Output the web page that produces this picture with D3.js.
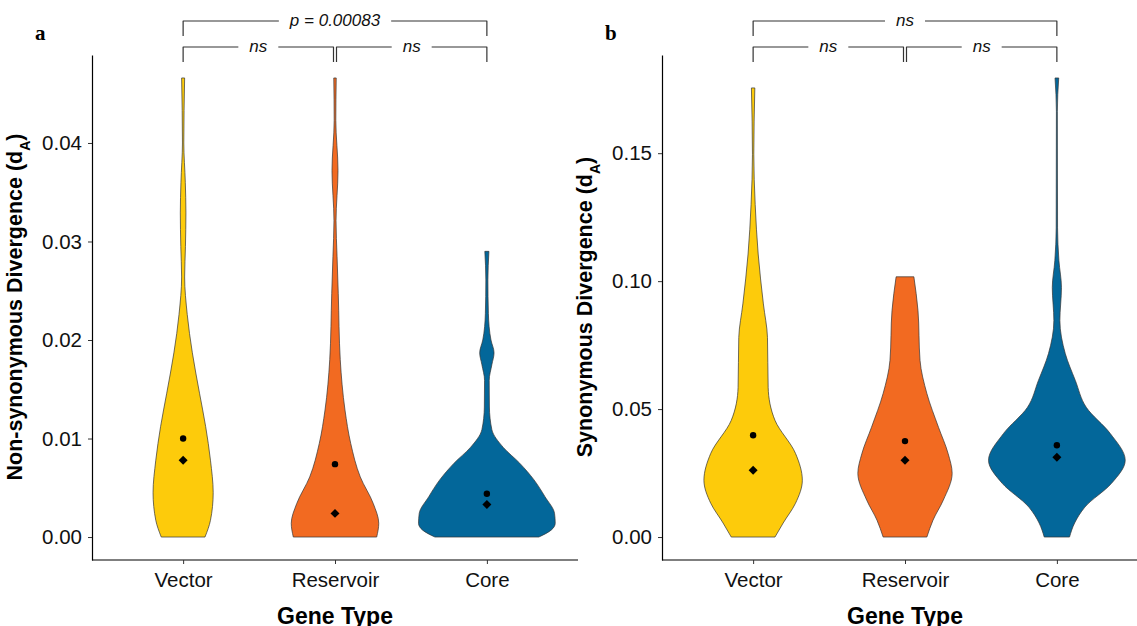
<!DOCTYPE html>
<html>
<head>
<meta charset="utf-8">
<script src="https://d3js.org/d3.v7.min.js"></script>
<style>
  body { margin: 0; background: #fff; }
  svg text { font-family: "Liberation Sans", Arial, sans-serif; }
</style>
</head>
<body>
<div id="chart"></div>
<script>
// categories and colours
var geneTypes = ["Vector", "Reservoir", "Core"];
var fills = ["#FDCB0B", "#F26A21", "#03679A"];

// violin outlines: [value, relative density]
var dnVector = [[0, 0.32], [0.0017, 0.40], [0.0045, 0.44], [0.0078, 0.40], [0.0112, 0.33], [0.0146, 0.24],
  [0.0187, 0.135], [0.0226, 0.06], [0.0264, 0.022], [0.0295, 0.034], [0.0329, 0.041], [0.036, 0.032],
  [0.040, 0.01], [0.0466, 0.022]];
var dnReservoir = [[0, 0.61], [0.0014, 0.64], [0.0034, 0.56], [0.0061, 0.37], [0.0095, 0.23], [0.0129, 0.146],
  [0.018, 0.077], [0.0247, 0.048], [0.0285, 0.03], [0.0321, 0.015], [0.0372, 0.044], [0.0423, 0.012],
  [0.0466, 0.018]];
var dnCore = [[0, 0.76], [0.0007, 0.94], [0.0014, 1.0], [0.0024, 0.99], [0.0041, 0.85], [0.0058, 0.69],
  [0.0075, 0.48], [0.0091, 0.24], [0.0109, 0.073], [0.0132, 0.037], [0.0159, 0.034], [0.0175, 0.073],
  [0.0187, 0.105], [0.0200, 0.06], [0.0227, 0.022], [0.0261, 0.015], [0.029, 0.03]];

var dsVector = [[0, 0.32], [0.0055, 0.44], [0.0132, 0.62], [0.0222, 0.72], [0.0327, 0.62], [0.0456, 0.32],
  [0.0585, 0.22], [0.078, 0.21], [0.0911, 0.15], [0.1106, 0.074], [0.130, 0.03], [0.1496, 0.01],
  [0.1755, 0.025]];
var dsReservoir = [[0, 0.32], [0.0066, 0.41], [0.0144, 0.56], [0.0249, 0.69], [0.0327, 0.63], [0.0429, 0.49],
  [0.0561, 0.32], [0.069, 0.22], [0.0885, 0.19], [0.1017, 0.13]];
var dsCore = [[0, 0.185], [0.0055, 0.26], [0.0117, 0.41], [0.021, 0.8], [0.030, 1.0], [0.0405, 0.78],
  [0.0507, 0.43], [0.0612, 0.27], [0.0717, 0.123], [0.0846, 0.044], [0.0975, 0.067], [0.108, 0.03],
  [0.1208, 0.01], [0.1664, 0.007], [0.1794, 0.027]];

// means (dots) and medians (diamonds)
var dnMeans = [0.0100, 0.0074, 0.0044];
var dnMedians = [0.0078, 0.0024, 0.0033];
var dsMeans = [0.0398, 0.0375, 0.0359];
var dsMedians = [0.0261, 0.0300, 0.0312];

var dnTicks = [0, 0.01, 0.02, 0.03, 0.04];
var dsTicks = [0, 0.05, 0.10, 0.15];

var dnTests = [
  {a: "Vector", b: "Core", label: "p = 0.00083", row: 0},
  {a: "Vector", b: "Reservoir", label: "ns", row: 1},
  {a: "Reservoir", b: "Core", label: "ns", row: 1}
];
var dsTests = [
  {a: "Vector", b: "Core", label: "ns", row: 0},
  {a: "Vector", b: "Reservoir", label: "ns", row: 1},
  {a: "Reservoir", b: "Core", label: "ns", row: 1}
];

var W = 1137, H = 626;
var svg = d3.select("#chart").append("svg").attr("width", W).attr("height", H);

function panel(opt) {
  var g = svg.append("g");
  var x = d3.scalePoint().domain(geneTypes).range([opt.left, opt.left + 486]).padding(0.6);
  var maxV = d3.max(opt.violins, function (v) { return d3.max(v, function (d) { return d[0]; }); });
  var pad = maxV * 0.05;
  var y = d3.scaleLinear().domain([-pad, maxV + pad]).range([560, 55]);
  var w = d3.scaleLinear().domain([0, 1]).range([0, x.step() * 0.45]);

  // violins
  opt.violins.forEach(function (v, i) {
    var cx = x(geneTypes[i]);
    var area = d3.area()
      .y(function (d) { return y(d[0]); })
      .x0(function (d) { return cx - w(d[1]); })
      .x1(function (d) { return cx + w(d[1]); })
      .curve(d3.curveMonotoneY);
    g.append("path").datum(v)
      .attr("d", area)
      .attr("fill", fills[i])
      .attr("stroke", "#333")
      .attr("stroke-width", 0.7);
  });

  // mean dots + median diamonds
  g.selectAll(".mean").data(opt.means).enter().append("circle")
    .attr("cx", function (d, i) { return x(geneTypes[i]); })
    .attr("cy", function (d) { return y(d); })
    .attr("r", 3.2)
    .attr("fill", "#000");
  g.selectAll(".median").data(opt.medians).enter().append("path")
    .attr("d", d3.symbol().type(d3.symbolSquare).size(40))
    .attr("transform", function (d, i) { return "translate(" + x(geneTypes[i]) + "," + y(d) + ") rotate(45)"; })
    .attr("fill", "#000");

  // axes
  var ya = g.append("g").attr("transform", "translate(" + opt.left + ",0)")
    .call(d3.axisLeft(y).tickValues(opt.ticks).tickFormat(d3.format(".2f")).tickSize(4).tickSizeOuter(0).tickPadding(6));
  var xa = g.append("g").attr("transform", "translate(0,560)")
    .call(d3.axisBottom(x).tickSize(4).tickSizeOuter(0).tickPadding(8));
  [ya, xa].forEach(function (a) {
    a.select(".domain").attr("stroke", "#000").attr("stroke-width", 1.2);
    a.selectAll(".tick line").attr("stroke", "#333").attr("stroke-width", 1);
    a.selectAll(".tick text").attr("fill", "#111").style("font-size", "20.5px");
  });
  // x axis line reaches a bit past the last category band
  xa.select(".domain").attr("d", "M" + opt.left + ",0H" + (opt.left + 486));

  // axis titles
  g.append("text")
    .attr("x", opt.left + 243).attr("y", 624)
    .attr("text-anchor", "middle")
    .style("font-size", "23px").style("font-weight", "bold")
    .text("Gene Type");
  var yt = g.append("text")
    .attr("transform", "translate(" + (opt.left - 70) + ",307) rotate(-90)")
    .attr("text-anchor", "middle")
    .style("font-size", "21.5px").style("font-weight", "bold");
  yt.append("tspan").text(opt.ytitle + " (d");
  yt.append("tspan").attr("baseline-shift", "sub").style("font-size", "14px").text("A");
  yt.append("tspan").text(")");

  // panel letter
  g.append("text")
    .attr("x", opt.left - 57).attr("y", 40)
    .style("font-family", "'Liberation Serif', 'Times New Roman', serif")
    .style("font-size", "21px").style("font-weight", "bold")
    .text(opt.letter);

  // significance brackets
  var rowY = [21, 47], tip = 15;
  opt.tests.forEach(function (t) {
    var x1 = x(t.a), x2 = x(t.b), ly = rowY[t.row];
    if (t.row === 1) {
      if (t.a === "Reservoir") x1 += 1.5;
      if (t.b === "Reservoir") x2 -= 1.5;
    }
    var mid = (x1 + x2) / 2;
    var lab = g.append("text")
      .attr("x", mid).attr("y", ly + 5)
      .attr("text-anchor", "middle")
      .style("font-size", "17px").style("font-style", "italic")
      .attr("fill", "#111")
      .text(t.label);
    var half = lab.node().getComputedTextLength() / 2 + 11;
    var path = d3.path();
    path.moveTo(x1, ly + tip); path.lineTo(x1, ly); path.lineTo(mid - half, ly);
    path.moveTo(mid + half, ly); path.lineTo(x2, ly); path.lineTo(x2, ly + tip);
    g.append("path").attr("d", path.toString())
      .attr("fill", "none").attr("stroke", "#333").attr("stroke-width", 1.2)
      .attr("stroke-linejoin", "round");
  });
}

panel({left: 92, letter: "a", ytitle: "Non-synonymous Divergence",
  violins: [dnVector, dnReservoir, dnCore], means: dnMeans, medians: dnMedians,
  ticks: dnTicks, tests: dnTests});
panel({left: 662, letter: "b", ytitle: "Synonymous Divergence",
  violins: [dsVector, dsReservoir, dsCore], means: dsMeans, medians: dsMedians,
  ticks: dsTicks, tests: dsTests});
</script>
</body>
</html>
